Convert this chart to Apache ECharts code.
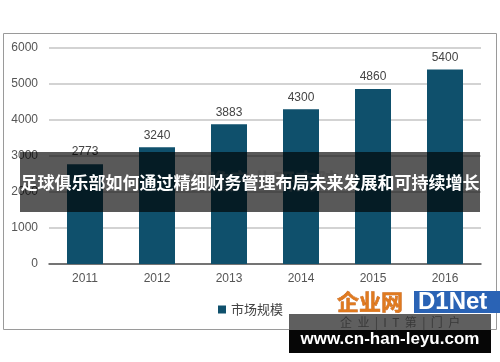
<!DOCTYPE html>
<html><head><meta charset="utf-8">
<script src="https://cdn.jsdelivr.net/npm/echarts@6/dist/echarts.min.js"></script>
<style>html,body{margin:0;padding:0;background:#fff}#c{width:500px;height:362px}</style>
</head><body><div id="c"></div>
<script>
var years = ['2011','2012','2013','2014','2015','2016'];
var marketSize = [2773, 3240, 3883, 4300, 4860, 5400];
var seriesName = '市场规模';
var bannerText = '足球俱乐部如何通过精细财务管理布局未来发展和可持续增长';
var siteText = 'www.cn-han-leyu.com';

var chart = echarts.init(document.getElementById('c'), null, {renderer:'canvas'});
chart.setOption({
  animation:false,
  backgroundColor:'#fff',
  grid:{left:49,right:19,top:48,bottom:98,containLabel:false},
  xAxis:{type:'category',data:years,
    axisLine:{lineStyle:{color:'#555',width:1.5}},
    axisTick:{show:false},
    axisLabel:{color:'#555',fontSize:12,fontFamily:'Liberation Sans, Arial',margin:9}},
  yAxis:{type:'value',min:0,max:6000,interval:1000,
    axisLine:{show:false},axisTick:{show:false},
    splitLine:{lineStyle:{color:'#c4c4c4',width:1.5}},
    axisLabel:{color:'#555',fontSize:12,fontFamily:'Liberation Sans, Arial',margin:11,
      formatter:function(v){return String(v);}}},
  legend:{data:[seriesName],left:213,top:298,itemWidth:8,itemHeight:8,itemGap:4,
    icon:'rect',textStyle:{color:'#444',fontSize:13,fontFamily:'Noto Sans CJK SC'}},
  series:[{name:seriesName,type:'bar',data:marketSize,barWidth:36,
    itemStyle:{color:'#0f506c'},
    label:{show:true,position:'top',color:'#444',fontSize:12,distance:6,fontFamily:'Liberation Sans, Arial'}}],
  graphic:[
    {type:'rect',z:100,shape:{x:3.5,y:33.5,width:493,height:296},style:{fill:'none',stroke:'#9a9a9a',lineWidth:1}},
    {type:'text',z:101,style:{x:185,y:181,text:'前瞻产业研究院',fill:'rgba(180,180,180,0.35)',font:'bold 22px "Noto Sans CJK SC"',textVerticalAlign:'middle'}},
    {type:'rect',z:102,shape:{x:20,y:152,width:460,height:60},style:{fill:'rgba(0,0,0,0.65)'}},
    {type:'text',z:103,style:{x:250,y:183,text:bannerText,fill:'#fff',font:'bold 17px "Noto Sans CJK SC"',textAlign:'center',textVerticalAlign:'middle'}},
    {type:'text',z:104,style:{x:337,y:302,text:'企业网',fill:'#e07a1f',stroke:'#b85510',lineWidth:0.5,font:'bold 22px "Noto Sans CJK SC"',textVerticalAlign:'middle'}},
    {type:'rect',z:104,shape:{x:414,y:291,width:86,height:22},style:{fill:'#2a63b5'}},
    {type:'text',z:105,style:{x:418,y:302,text:'D1Net',fill:'#fff',font:'bold 24px "Liberation Sans", Arial',textVerticalAlign:'middle'}},
    {type:'rect',z:106,shape:{x:289,y:314,width:202,height:16},style:{fill:'#5f5f5f'}},
    {type:'text',z:107,style:{x:340,y:322,text:'企  业  |  I  T  第  |  门  户',fill:'rgba(40,40,40,0.7)',font:'12px "Noto Sans CJK SC"',textVerticalAlign:'middle'}},
    {type:'rect',z:106,shape:{x:289,y:330,width:202,height:23},style:{fill:'#060606'}},
    {type:'text',z:107,style:{x:390,y:339,text:siteText,fill:'#fff',font:'bold 17px "Liberation Sans", Arial',textAlign:'center',textVerticalAlign:'middle'}}
  ]
});
</script></body></html>
